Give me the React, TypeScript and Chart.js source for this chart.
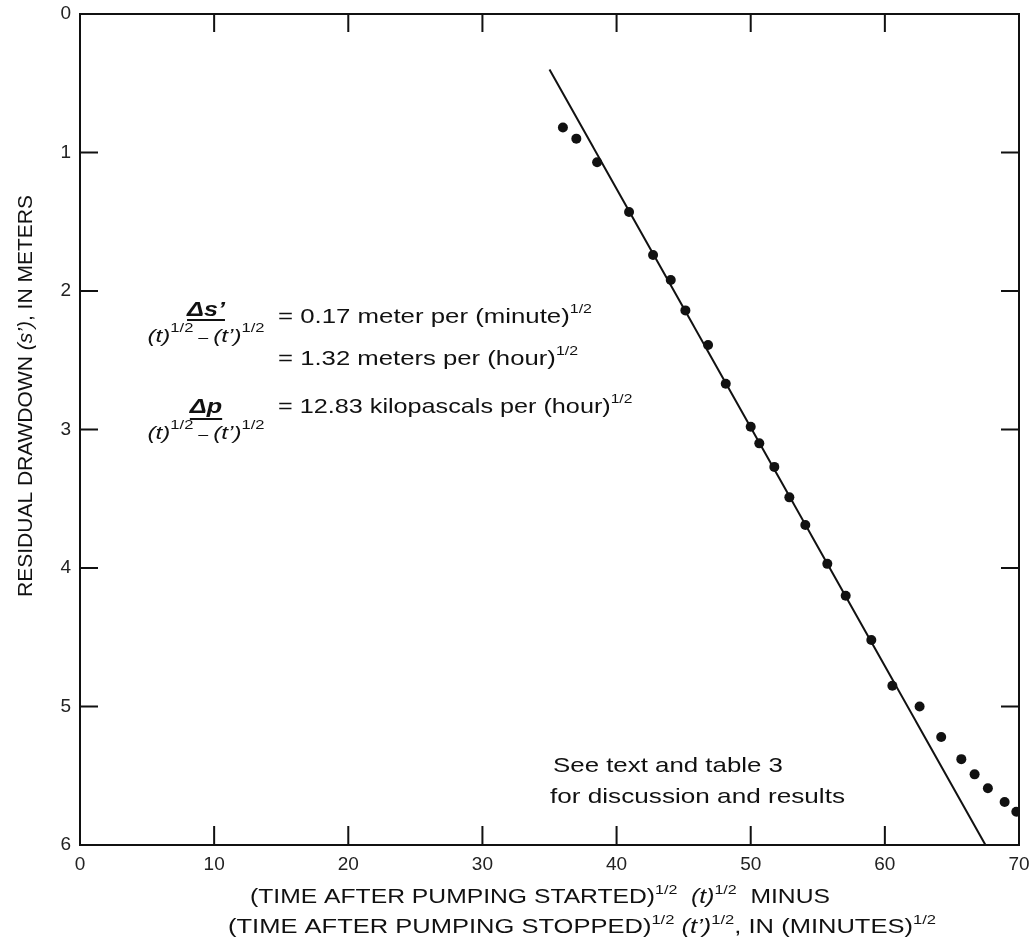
import { useEffect, useRef } from 'react';
import { Chart, registerables } from 'chart.js';

Chart.register(...registerables);

// Observed data: (t)^1/2 - (t')^1/2 [minutes^1/2] vs residual drawdown s' [m]
const pointX = [36.0, 37.0, 38.55, 40.93, 42.72, 44.04, 45.13, 46.82, 48.14, 50.0, 50.64, 51.76, 52.88, 54.07, 55.71, 57.08, 58.99, 60.56, 62.59, 64.2, 65.7, 66.69, 67.68, 68.93, 69.8];
const pointY = [0.82, 0.9, 1.07, 1.43, 1.74, 1.92, 2.14, 2.39, 2.67, 2.98, 3.1, 3.27, 3.49, 3.69, 3.97, 4.2, 4.52, 4.85, 5.0, 5.22, 5.38, 5.49, 5.59, 5.69, 5.76];

// Fitted straight line
const fitX = [35.0, 67.5];
const fitY = [0.4, 6.0];

// Axis ticks
const xTicks = [0, 10, 20, 30, 40, 50, 60, 70];
const yTicks = [0, 1, 2, 3, 4, 5, 6];

const FAM = '"Liberation Sans", Arial, Helvetica, sans-serif';
const INK = '#111';

type Run = { t: string; f: string; dy?: number };

function runsWidth(ctx: CanvasRenderingContext2D, runs: Run[]) {
  let w = 0;
  for (const r of runs) {
    ctx.font = r.f;
    w += ctx.measureText(r.t).width;
  }
  return w;
}

// draw a sequence of styled runs; stretched horizontally to `target` width if given
function drawRuns(
  ctx: CanvasRenderingContext2D,
  runs: Run[],
  x: number,
  y: number,
  align: 'left' | 'center' = 'left',
  target?: number,
  stretch?: number,
) {
  const natural = runsWidth(ctx, runs);
  const k = target ? target / natural : stretch || 1;
  const total = natural * k;
  const x0 = align === 'center' ? x - total / 2 : x;
  ctx.save();
  ctx.translate(x0, y);
  ctx.scale(k, 1);
  ctx.textAlign = 'left';
  let cx = 0;
  for (const r of runs) {
    ctx.font = r.f;
    ctx.fillText(r.t, cx, r.dy || 0);
    cx += ctx.measureText(r.t).width;
  }
  ctx.restore();
}

const f = (s: number, style = '') => `${style} ${s}px ${FAM}`.trim();

const decorPlugin = {
  id: 'decor',
  afterDatasetsDraw(chart: any) {
    const ctx: CanvasRenderingContext2D = chart.ctx;
    const { left, right, top, bottom } = chart.chartArea;
    const xs = chart.scales.x;
    const ys = chart.scales.y;
    ctx.save();
    ctx.strokeStyle = INK;
    ctx.lineWidth = 2;
    ctx.strokeRect(left, top, right - left, bottom - top);
    // inward tick marks on all four sides
    ctx.beginPath();
    for (const v of xTicks) {
      if (v === xTicks[0] || v === xTicks[xTicks.length - 1]) continue;
      const px = xs.getPixelForValue(v);
      ctx.moveTo(px, bottom);
      ctx.lineTo(px, bottom - 19);
      ctx.moveTo(px, top);
      ctx.lineTo(px, top + 18);
    }
    for (const v of yTicks) {
      if (v === yTicks[0] || v === yTicks[yTicks.length - 1]) continue;
      const py = ys.getPixelForValue(v);
      ctx.moveTo(left, py);
      ctx.lineTo(left + 18, py);
      ctx.moveTo(right, py);
      ctx.lineTo(right - 18, py);
    }
    ctx.stroke();
    ctx.restore();
  },
  afterDraw(chart: any) {
    const ctx: CanvasRenderingContext2D = chart.ctx;
    ctx.save();
    ctx.fillStyle = INK;
    ctx.textBaseline = 'alphabetic';

    // Y axis title (rotated)
    ctx.save();
    ctx.translate(32, 396);
    ctx.rotate(-Math.PI / 2);
    drawRuns(ctx, [
      { t: 'RESIDUAL DRAWDOWN ', f: f(21) },
      { t: '(s\u2019)', f: f(21, 'italic') },
      { t: ', IN METERS', f: f(21) },
    ], 0, 0, 'center', 402);
    ctx.restore();

    // X axis title, two lines
    drawRuns(ctx, [
      { t: '(TIME AFTER PUMPING STARTED)', f: f(20) },
      { t: '1/2', f: f(13), dy: -9 },
      { t: '  ', f: f(20) },
      { t: '(t)', f: f(20, 'italic') },
      { t: '1/2', f: f(13), dy: -9 },
      { t: '  MINUS', f: f(20) },
    ], 250, 903, 'left', 580);
    drawRuns(ctx, [
      { t: '(TIME AFTER PUMPING STOPPED)', f: f(20) },
      { t: '1/2', f: f(13), dy: -9 },
      { t: ' ', f: f(20) },
      { t: '(t\u2019)', f: f(20, 'italic') },
      { t: '1/2', f: f(13), dy: -9 },
      { t: ', IN (MINUTES)', f: f(20) },
      { t: '1/2', f: f(13), dy: -9 },
    ], 228, 933, 'left', 708);

    // Annotation: slope formulas
    const denom: Run[] = [
      { t: '(t)', f: f(19, 'italic') },
      { t: '1/2', f: f(13), dy: -10 },
      { t: ' \u2013 ', f: f(14) },
      { t: '(t\u2019)', f: f(19, 'italic') },
      { t: '1/2', f: f(13), dy: -10 },
    ];
    const fracX = 206;
    const SX = 1.2;
    // first fraction
    ctx.font = f(21, 'bold italic');
    let w = ctx.measureText('\u0394s\u2019').width * SX;
    drawRuns(ctx, [{ t: '\u0394s\u2019', f: f(21, 'bold italic') }], fracX, 316, 'center', undefined, SX);
    ctx.fillRect(fracX - w / 2, 319, w, 2);
    drawRuns(ctx, denom, fracX, 342, 'center', 117);
    drawRuns(ctx, [
      { t: '= 0.17 meter per (minute)', f: f(21) },
      { t: '1/2', f: f(13), dy: -10 },
    ], 278, 323, 'left', 314);
    drawRuns(ctx, [
      { t: '= 1.32 meters per (hour)', f: f(21) },
      { t: '1/2', f: f(13), dy: -10 },
    ], 278, 365, 'left', 300);
    // second fraction
    ctx.font = f(21, 'bold italic');
    w = ctx.measureText('\u0394p').width * SX;
    drawRuns(ctx, [{ t: '\u0394p', f: f(21, 'bold italic') }], fracX, 413, 'center', undefined, SX);
    ctx.fillRect(fracX - w / 2, 418, w, 2);
    drawRuns(ctx, denom, fracX, 439, 'center', 117);
    drawRuns(ctx, [
      { t: '= 12.83 kilopascals per (hour)', f: f(21) },
      { t: '1/2', f: f(13), dy: -10 },
    ], 278, 413, 'left', undefined, SX);

    // note
    drawRuns(ctx, [{ t: 'See text and table 3', f: f(21) }], 553, 772, 'left', 230);
    drawRuns(ctx, [{ t: 'for discussion and results', f: f(21) }], 550, 803, 'left', 295);

    ctx.restore();
  },
};

export default function App() {
  const ref = useRef<HTMLCanvasElement | null>(null);
  useEffect(() => {
    if (!ref.current) return;
    const chart = new Chart(ref.current, {
      type: 'scatter',
      data: {
        datasets: [
          {
            label: 'Observed',
            data: pointX.map((x, i) => ({ x, y: pointY[i] })),
            pointRadius: 5,
            pointBackgroundColor: INK,
            pointBorderWidth: 0,
            showLine: false,
          },
          {
            label: 'Fit',
            data: fitX.map((x, i) => ({ x, y: fitY[i] })),
            showLine: true,
            borderColor: INK,
            borderWidth: 2,
            pointRadius: 0,
          },
        ],
      },
      options: {
        animation: false,
        responsive: false,
        devicePixelRatio: 1,
        layout: { padding: { top: 14, right: 14, left: 0, bottom: 0 } },
        plugins: { legend: { display: false }, tooltip: { enabled: false } },
        scales: {
          x: {
            type: 'linear',
            min: 0,
            max: 70,
            afterFit: (s: any) => { s.height = 96; s.paddingLeft = 0; s.paddingRight = 0; },
            afterBuildTicks: (s: any) => { s.ticks = xTicks.map((v) => ({ value: v })); },
            grid: { display: false, drawTicks: false },
            border: { display: false },
            ticks: { padding: 8, color: '#222', font: { family: FAM, size: 19 } },
          },
          y: {
            type: 'linear',
            reverse: true,
            min: 0,
            max: 6,
            afterFit: (s: any) => { s.width = 80; s.paddingTop = 0; s.paddingBottom = 0; },
            afterBuildTicks: (s: any) => { s.ticks = yTicks.map((v) => ({ value: v })); },
            grid: { display: false, drawTicks: false },
            border: { display: false },
            ticks: { padding: 9, color: '#222', font: { family: FAM, size: 19 } },
          },
        },
      },
      plugins: [decorPlugin],
    });
    return () => chart.destroy();
  }, []);
  return (
    <div style={{ position: 'absolute', left: 0, top: 0, width: 1033, height: 941, background: '#fff' }}>
      <canvas ref={ref} width={1033} height={941} />
    </div>
  );
}
